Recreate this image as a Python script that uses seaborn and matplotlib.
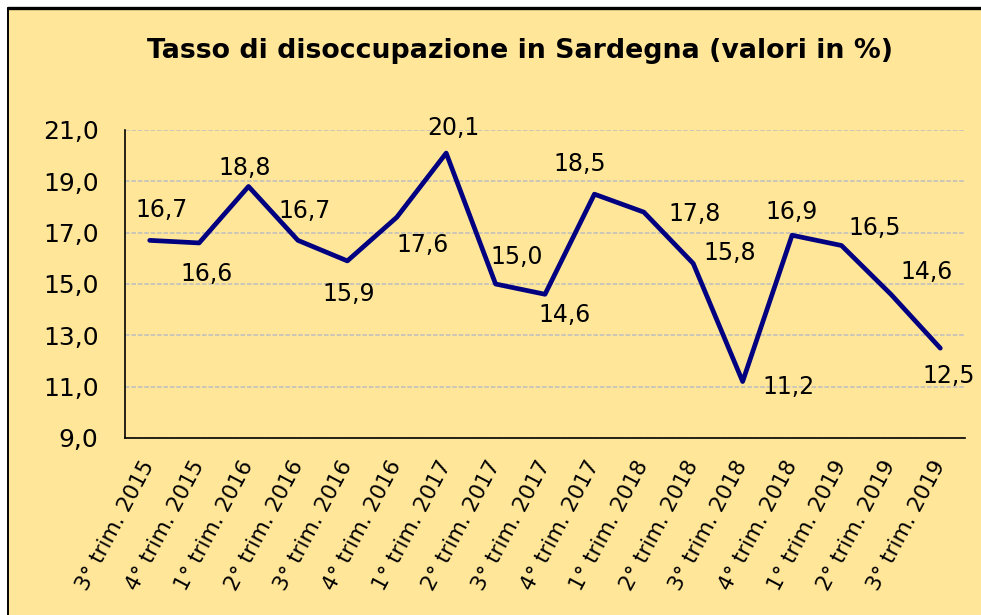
import matplotlib
matplotlib.use('Agg')
import matplotlib.pyplot as plt
from matplotlib.patches import Rectangle
from matplotlib.lines import Line2D
from matplotlib.ticker import FixedLocator, FuncFormatter
import pandas as pd
import seaborn as sns

facecolor = '#ffe699'
linecolor = '#000080'
gridcolor = '#bdbdc0'

# data
periodi = [
    '3° trim. 2015', '4° trim. 2015', '1° trim. 2016', '2° trim. 2016',
    '3° trim. 2016', '4° trim. 2016', '1° trim. 2017', '2° trim. 2017',
    '3° trim. 2017', '4° trim. 2017', '1° trim. 2018', '2° trim. 2018',
    '3° trim. 2018', '4° trim. 2018', '1° trim. 2019', '2° trim. 2019',
    '3° trim. 2019',
]
tasso = [16.7, 16.6, 18.8, 16.7, 15.9, 17.6, 20.1, 15.0, 14.6,
         18.5, 17.8, 15.8, 11.2, 16.9, 16.5, 14.6, 12.5]
y_ticks = [9, 11, 13, 15, 17, 19, 21]

# manual label placement (pixels, right / down), as in the original
label_offsets = [(12, -30), (7, 31), (-4, -18), (7, -29), (1, 33), (26, 28),
                 (7, -25), (21, -27), (20, 21), (-15, -30), (51, 2), (37, -10),
                 (46, 5), (0, -23), (33, -17), (36, -22), (8, 28)]

df = pd.DataFrame({'periodo': periodi, 'tasso': tasso})

sns.set_style('white', rc={
    'axes.facecolor': facecolor,
    'axes.edgecolor': 'black',
    'text.color': 'black',
    'axes.labelcolor': 'black',
    'xtick.color': 'black',
    'ytick.color': 'black',
})
plt.rcParams['font.family'] = ['DejaVu Sans']

W, H = 981, 615
fig = plt.figure(figsize=(W / 100, H / 100), dpi=100, facecolor='white')
# yellow chart area, black frame on top and left (the rest is cropped)
fig.patches.append(Rectangle((7.5 / W, 0), (W - 7.5) / W, (H - 7.5) / H,
                             transform=fig.transFigure, facecolor=facecolor,
                             edgecolor='none', linewidth=0, zorder=-5))
fig.lines.append(Line2D([7.5 / W, (W - 0.5) / W], [1 - 7.5 / H, 1 - 7.5 / H],
                        transform=fig.transFigure, color='black', linewidth=2.4))
fig.lines.append(Line2D([7.8 / W, 7.8 / W], [0.5 / H, 1 - 7.5 / H],
                        transform=fig.transFigure, color='black', linewidth=1.4))

ax = fig.add_axes([125 / W, 1 - 438 / H, (965 - 125) / W, (438 - 130) / H])
ax.set_facecolor(facecolor)

sns.lineplot(data=df, x='periodo', y='tasso', sort=False, color=linecolor,
             linewidth=3.4, estimator=None, ax=ax, zorder=3)

for i, (v, (dx, dy)) in enumerate(zip(tasso, label_offsets)):
    ax.annotate(f'{v:.1f}'.replace('.', ','), xy=(i, v), xytext=(dx, -dy),
                textcoords='offset pixels', ha='center', va='center',
                fontsize=17, color='black', zorder=4)

ax.set_xlim(-0.5, len(periodi) - 0.5)
ax.set_ylim(9, 21)
ax.set_yticks(y_ticks)
ax.yaxis.set_major_formatter(FuncFormatter(lambda v, p: f'{v:.1f}'.replace('.', ',')))
ax.yaxis.grid(True, color=gridcolor, linestyle=(0, (3, 1.2)), linewidth=1.1)
ax.set_axisbelow(True)

ax.set_xticks(range(len(periodi)))
ax.set_xticklabels(periodi, rotation=62, ha='right', va='center',
                   rotation_mode='anchor', fontsize=15.5)
ax.xaxis.set_minor_locator(FixedLocator([i - 0.5 for i in range(len(periodi) + 1)]))
ax.tick_params(axis='x', which='major', length=0, pad=17)
ax.tick_params(axis='x', which='minor', direction='inout', length=10, width=1)
ax.tick_params(axis='y', which='major', direction='out', length=6, width=1.2,
               pad=13, labelsize=18)

for s in ['top', 'right']:
    ax.spines[s].set_visible(False)
for s in ['left', 'bottom']:
    ax.spines[s].set_linewidth(1.2)

ax.set_xlabel('')
ax.set_ylabel('')

fig.text(520 / W, 1 - 51 / H, 'Tasso di disoccupazione in Sardegna (valori in %)',
         ha='center', va='center', fontsize=19.3, fontweight='bold', color='black')

fig.savefig('out.png', dpi=100, facecolor='white', edgecolor='none')
plt.close(fig)
